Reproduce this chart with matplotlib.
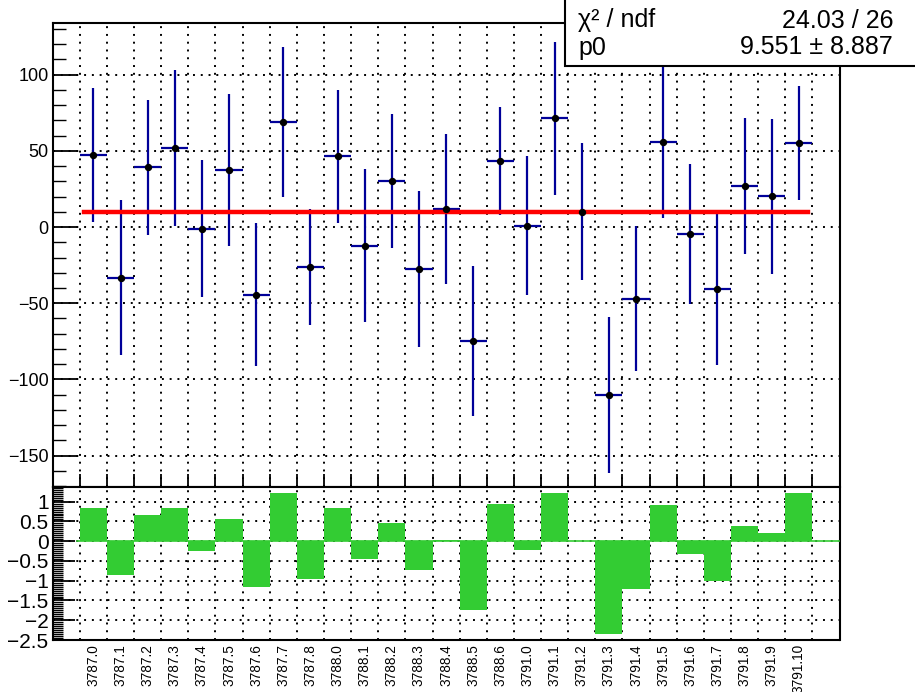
import numpy as np
import matplotlib.pyplot as plt
from matplotlib.ticker import MultipleLocator, FixedLocator, NullFormatter
from matplotlib.patches import Rectangle

plt.rcParams['font.family'] = ['Liberation Sans', 'DejaVu Sans']

# ===========================================
# DATI
# ===========================================
runs = ["3787.0", "3787.1", "3787.2", "3787.3", "3787.4", "3787.5", "3787.6",
        "3787.7", "3787.8", "3788.0", "3788.1", "3788.2", "3788.3", "3788.4",
        "3788.5", "3788.6", "3791.0", "3791.1", "3791.2", "3791.3", "3791.4",
        "3791.5", "3791.6", "3791.7", "3791.8", "3791.9", "3791.10"]

values = [47.4, -33.2, 39.1, 52.0, -1.1, 37.4, -44.4, 68.9, -26.0, 46.4,
          -12.2, 30.0, -27.6, 11.8, -74.8, 43.5, 0.7, 71.3, 10.0, -110.0,
          -47.0, 56.0, -4.8, -40.5, 27.1, 20.1, 55.3]

errors = [44.0, 51.0, 44.0, 51.0, 45.0, 50.0, 47.0, 49.0, 38.0, 43.5,
          50.0, 44.0, 51.0, 49.5, 49.0, 35.4, 45.6, 50.3, 45.0, 51.2,
          47.8, 50.0, 46.0, 50.0, 44.7, 50.9, 37.5]

# residui normalizzati (pannello inferiore)
pulls = [0.85, -0.86, 0.67, 0.83, -0.26, 0.56, -1.17, 1.21, -0.96, 0.84,
         -0.46, 0.46, -0.74, 0.04, -1.74, 0.95, -0.22, 1.21, 0.01, -2.35,
         -1.20, 0.92, -0.33, -1.00, 0.39, 0.20, 1.21]

fit_p0 = 9.551
fit_range = [-0.35, 26.33]
stat_rows = [("χ² / ndf", "24.03 / 26"), ("p0", "9.551 ± 8.887")]

# ===========================================
# FIGURA
# ===========================================
W, H = 915, 692
fig = plt.figure(figsize=(W / 100, H / 100), dpi=100)

x = np.arange(len(runs))
edges = np.arange(-0.5, len(runs) + 0.5, 1.0)
xlim = (-1.5, len(runs) + 0.5)

left = 52.7 / W
width = (839.5 - 52.7) / W
ax1 = fig.add_axes([left, 1 - 486.7 / H, width, (486.7 - 22.7) / H])
ax2 = fig.add_axes([left, 1 - 640 / H, width, (640 - 486.7) / H])

grid_style = dict(color='black', linestyle=(0, (1, 3.0)), linewidth=1.4)

# --- pannello superiore
ax1.errorbar(x, values, yerr=errors, xerr=0.5, fmt='none', ecolor='#000099',
             elinewidth=1.6, capsize=0, zorder=3)
ax1.plot(fit_range, [fit_p0, fit_p0], color='red', lw=3.2, zorder=4)
ax1.plot(x, values, 'o', color='black', ms=4.3, zorder=5)

ax1.set_xlim(*xlim)
ax1.set_ylim(-170.4, 134.1)
ax1.xaxis.set_major_locator(FixedLocator(edges))
ax1.xaxis.set_major_formatter(NullFormatter())
ax1.yaxis.set_major_locator(MultipleLocator(50))
ax1.yaxis.set_minor_locator(MultipleLocator(10))
ax1.grid(True, which='major', **grid_style)
ax1.set_axisbelow(True)
ax1.tick_params(axis='x', which='major', direction='in', length=9.5, width=1.3,
                top=False, bottom=True)
ax1.tick_params(axis='y', which='major', direction='in', length=18, width=1.3,
                right=False, labelsize=13, pad=3)
ax1.tick_params(axis='y', which='minor', direction='in', length=9.5, width=1.0,
                right=False)
for s in ax1.spines.values():
    s.set_linewidth(1.5)

# --- pannello inferiore
ax2.bar(x, pulls, width=1.0, color='#33cc33', edgecolor='none', zorder=3)
ax2.plot([-0.6, len(runs) + 0.5], [0, 0], color='#33cc33', lw=1.2, zorder=3)
ax2.set_xlim(*xlim)
ax2.set_ylim(-2.5, 1.378)
ax2.xaxis.set_major_locator(FixedLocator(edges))
ax2.xaxis.set_major_formatter(NullFormatter())
ax2.set_xticks(x, minor=True)
ax2.set_xticklabels(runs, minor=True, rotation=90, fontsize=9.8)
ax2.tick_params(axis='x', which='both', length=0, pad=3)
ax2.yaxis.set_minor_locator(MultipleLocator(0.05))
ax2.set_yticks(np.arange(-2.5, 1.01, 0.5))
ax2.set_yticklabels(['−2.5', '−2', '−1.5', '−1', '−0.5', '0', '0.5', '1'])
ax2.grid(True, which='major', **grid_style)
ax2.set_axisbelow(True)
ax2.tick_params(axis='y', which='major', direction='in', length=16, width=1.3,
                right=False, labelsize=15, pad=3)
ax2.tick_params(axis='y', which='minor', direction='in', length=7.5, width=1.0,
                right=False)
for s in ax2.spines.values():
    s.set_linewidth(1.5)

# --- box statistiche
box = Rectangle((565 / W, 1 - 65.7 / H), 1.0, 1.0, transform=fig.transFigure,
                facecolor='white', edgecolor='black', lw=1.5, zorder=10)
fig.add_artist(box)
for k, (name, val) in enumerate(stat_rows):
    yb = 1 - (27.5 + 27.0 * k) / H
    fig.text(578 / W, yb, name, fontsize=18, va='baseline', ha='left', zorder=11)
    fig.text(893 / W, yb, val, fontsize=18, va='baseline', ha='right', zorder=11)

fig.savefig('out.png', dpi=100)
